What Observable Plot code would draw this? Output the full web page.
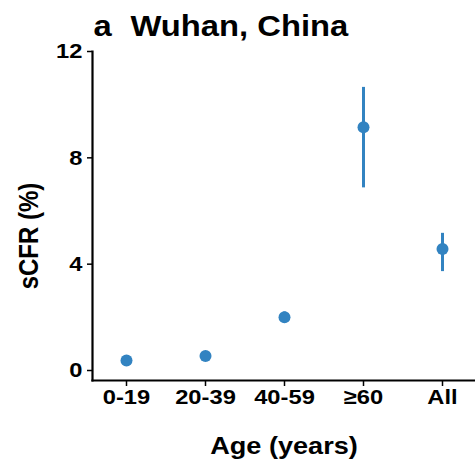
<!DOCTYPE html>
<html>
<head>
<meta charset="utf-8">
<script src="https://cdn.jsdelivr.net/npm/d3@7"></script>
<script src="https://cdn.jsdelivr.net/npm/@observablehq/plot@0.6"></script>
<style>
  body { margin: 0; background: #fff; }
  #chart svg { display: block; }
</style>
</head>
<body>
<div id="chart"></div>
<script>
// Data
const ageGroups = ["0-19", "20-39", "40-59", "≥60", "All"];
const sCFR  = [0.38, 0.55, 2.0, 9.15, 4.57];
const lower = [0.33, 0.50, 1.80, 6.87, 3.72];
const upper = [0.43, 0.60, 2.20, 10.65, 5.16];
const yTicks = [0, 4, 8, 12];
const panelLetter = "a";
const panelTitle = "Wuhan, China";
const xLabel = "Age (years)";
const yLabel = "sCFR (%)";

const data = ageGroups.map((age, i) => ({age, value: sCFR[i], lo: lower[i], hi: upper[i]}));
const blue = "#3283c1";
const font = "'Liberation Sans', Arial, Helvetica, sans-serif";

const plot = Plot.plot({
  width: 475,
  height: 466,
  marginLeft: 92,
  marginRight: 0,
  marginTop: 51,
  marginBottom: 86,
  style: {fontFamily: font, background: "white", color: "black"},
  x: {type: "point", domain: ageGroups, padding: 0.41, axis: null},
  y: {domain: [-0.376, 12], axis: null},
  marks: [
    Plot.frame({anchor: "left", strokeWidth: 2.2}),
    Plot.frame({anchor: "bottom", strokeWidth: 2.2}),
    Plot.axisX({anchor: "bottom", tickSize: 6, tickPadding: 3, fontSize: 21, fontWeight: "bold", strokeWidth: 1.5, label: null}),
    Plot.axisY({anchor: "left", ticks: yTicks, tickSize: 5, tickPadding: 5, fontSize: 21, fontWeight: "bold", strokeWidth: 1.5, label: null}),
    Plot.ruleX(data, {x: "age", y1: "lo", y2: "hi", stroke: blue, strokeWidth: 3}),
    Plot.dot(data, {x: "age", y: "value", r: 6, fill: blue}),
    Plot.text([panelLetter], {text: d => d, frameAnchor: "top-left", dx: 1, dy: -16, lineAnchor: "bottom", textAnchor: "start", fontSize: 29, fontWeight: "bold"}),
    Plot.text([panelTitle], {text: d => d, frameAnchor: "top-left", dx: 38, dy: -16, lineAnchor: "bottom", textAnchor: "start", fontSize: 29, fontWeight: "bold"}),
    Plot.text([xLabel], {text: d => d, frameAnchor: "bottom", dy: 73, lineAnchor: "bottom", textAnchor: "middle", fontSize: 24, fontWeight: "bold"}),
    Plot.text([yLabel], {text: d => d, frameAnchor: "left", dx: -63, dy: 20, rotate: -90, lineAnchor: "middle", textAnchor: "middle", fontSize: 24, fontWeight: "bold"})
  ]
});

// widen glyphs horizontally to match the reference's wide lettering
const SX = 1.13;
d3.select(plot).selectAll("text").each(function() {
  const t = this.getAttribute("transform") || "";
  const m = t.match(/^(translate\([^)]*\))(.*)$/);
  if (m) {
    this.setAttribute("transform", `${m[1]} scale(${SX},1)${m[2]}`);
  } else {
    const x = +this.getAttribute("x") || 0, y = +this.getAttribute("y") || 0;
    this.removeAttribute("x"); this.removeAttribute("y");
    this.setAttribute("transform", `translate(${x},${y}) scale(${SX},1) ${t}`);
  }
});

document.getElementById("chart").appendChild(plot);
</script>
</body>
</html>
